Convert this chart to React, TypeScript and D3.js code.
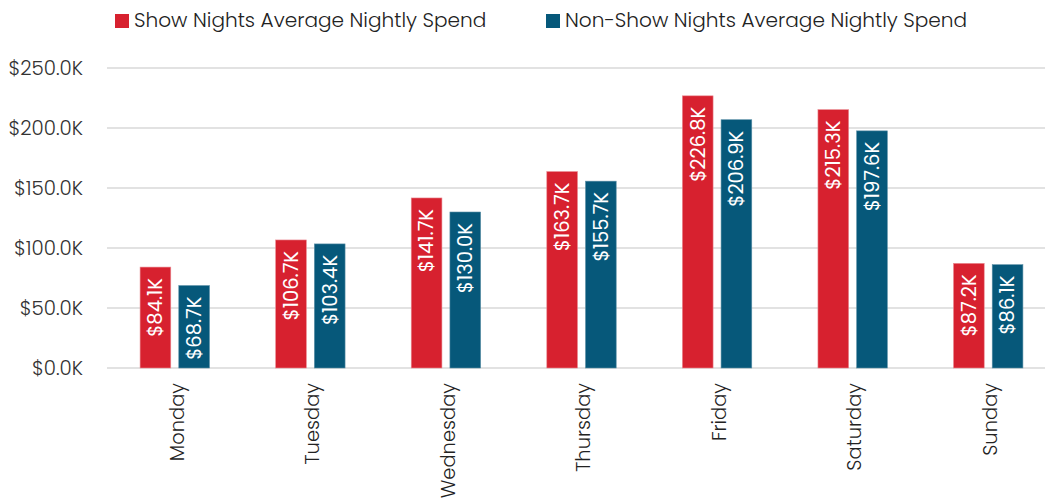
import React from "react";
import * as d3 from "d3";

const days = ["Monday", "Tuesday", "Wednesday", "Thursday", "Friday", "Saturday", "Sunday"];
const showNights = [84.1, 106.7, 141.7, 163.7, 226.8, 215.3, 87.2];
const nonShowNights = [68.7, 103.4, 130.0, 155.7, 206.9, 197.6, 86.1];
const seriesNames = ["Show Nights Average Nightly Spend", "Non-Show Nights Average Nightly Spend"];
const yTicks = [0, 50, 100, 150, 200, 250];

const W = 1045;
const H = 503;
const colors = ["#D7212F", "#06587A"];
const FONT = "Poppins, 'Open Sans', sans-serif";

export default function App() {
  const x = d3.scaleBand<string>().domain(days).range([107, 1056]).paddingInner(0).paddingOuter(0);
  const y = d3.scaleLinear().domain([0, 250]).range([368, 68]);
  const barW = 30.7;
  const gap = 8;
  const groupW = barW * 2 + gap;
  const series = [showNights, nonShowNights];
  const fmt = (v: number) => `$${v.toFixed(1)}K`;

  return (
    <svg width={W} height={H} style={{ position: "absolute", left: 0, top: 0 }} fontFamily={FONT}>
      <rect width={W} height={H} fill="#fff" />
      {/* legend */}
      <g>
        <rect x={115} y={14} width={14} height={14} fill={colors[0]} />
        <text x={134} y={27} fontSize={20.1} fontWeight={300} fill="#222">{seriesNames[0]}</text>
        <rect x={546} y={14} width={14} height={14} fill={colors[1]} />
        <text x={565} y={27} fontSize={20.1} fontWeight={300} fill="#222">{seriesNames[1]}</text>
      </g>
      {/* grid + y axis */}
      {yTicks.map((t) => (
        <g key={t}>
          <line x1={107} x2={W} y1={y(t)} y2={y(t)} stroke="#d9d9d9" strokeWidth={1.3} />
          <text x={83} y={y(t)} dy="0.35em" textAnchor="end" fontSize={19.8} fontWeight={300} fill="#333">
            {`$${t.toFixed(1)}K`}
          </text>
        </g>
      ))}
      {/* bars */}
      {days.map((d, i) => {
        const cx = (x(d) as number) + x.bandwidth() / 2;
        const start = cx - groupW / 2;
        return (
          <g key={d}>
            {series.map((s, j) => {
              const bx = start + j * (barW + gap);
              const by = y(s[i]);
              const bh = y(0) - by;
              return (
                <g key={j}>
                  <rect x={bx} y={by} width={barW} height={bh} fill={colors[j]} stroke={j === 0 ? "#e98a92" : "#5a8fa6"} strokeWidth={0.6} />
                  <text
                    transform={`translate(${bx + barW / 2},${by + 11}) rotate(-90)`}
                    textAnchor="end"
                    dy="0.35em"
                    fontSize={19.5}
                    fill="#fff"
                  >
                    {fmt(s[i])}
                  </text>
                </g>
              );
            })}
            <text
              transform={`translate(${cx + 2},${383}) rotate(-90)`}
              textAnchor="end"
              dy="0.35em"
              fontSize={19.5}
              fontWeight={300}
              fill="#222"
            >
              {d}
            </text>
          </g>
        );
      })}
    </svg>
  );
}
